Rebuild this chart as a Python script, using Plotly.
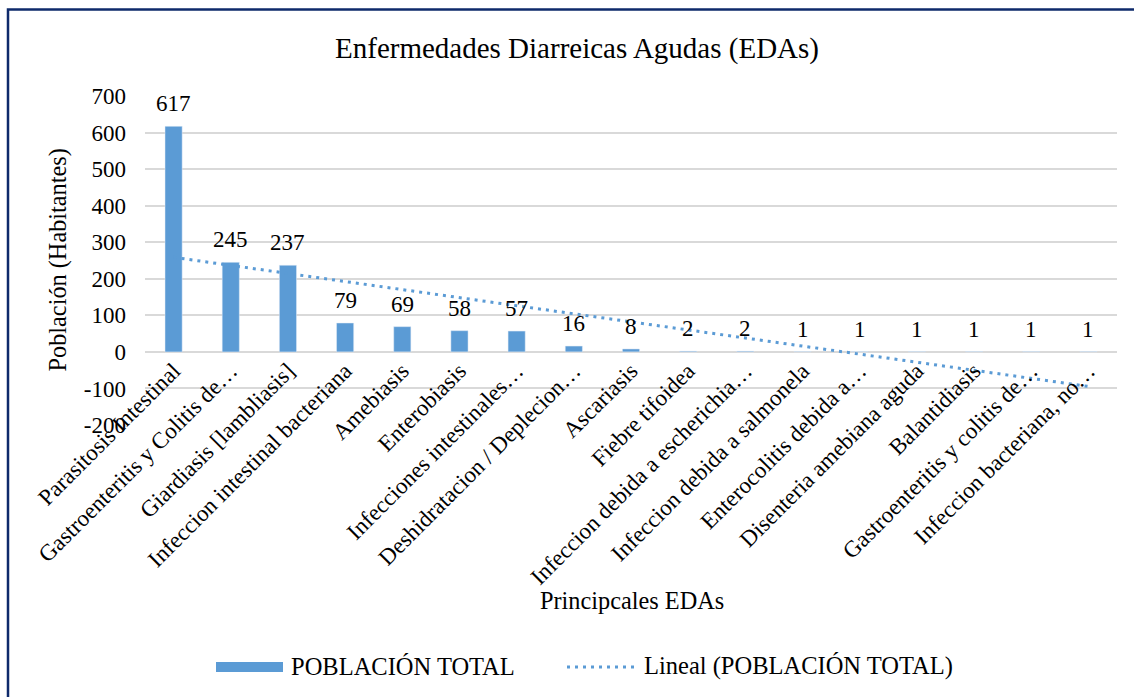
import numpy as np
import plotly.graph_objects as go

categories = [
    "Parasitosis Intestinal",
    "Gastroenteritis y Colitis de…",
    "Giardiasis [lambliasis]",
    "Infeccion intestinal bacteriana",
    "Amebiasis",
    "Enterobiasis",
    "Infecciones intestinales…",
    "Deshidratacion / Deplecion…",
    "Ascariasis",
    "Fiebre tifoidea",
    "Infeccion debida a escherichia…",
    "Infeccion debida a salmonela",
    "Enterocolitis debida a…",
    "Disenteria amebiana aguda",
    "Balantidiasis",
    "Gastroenteritis y colitis de…",
    "Infeccion bacteriana, no…",
]

poblacion = [617, 245, 237, 79, 69, 58, 57, 16, 8, 2, 2, 1, 1, 1, 1, 1, 1]

y_tickvals = [-200, -100, 0, 100, 200, 300, 400, 500, 600, 700]
y_ticktext = ["-200", "-100", "0", "100", "200", "300", "400", "500", "600", "700"]

FONT = "Liberation Serif"
BAR_COLOR = "#5B9BD5"
NAVY = "#0E2A6B"

W, H = 1134, 697
ML, MR, MT, MB = 145, 17, 96, 272
PW = W - ML - MR
PH = H - MT - MB


def px_x(p):
    return (p - ML) / PW


def px_y(q):
    return (H - MB - q) / PH


idx = np.arange(len(poblacion))
slope, intercept = np.polyfit(idx, np.array(poblacion, dtype=float), 1)
trend = slope * idx + intercept

fig = go.Figure()
fig.add_trace(go.Bar(
    x=categories, y=poblacion, marker_color=BAR_COLOR,
    name="POBLACIÓN TOTAL", showlegend=False,
))
fig.add_trace(go.Scatter(
    x=categories, y=trend, mode="lines",
    line=dict(color=BAR_COLOR, width=3, dash="3px,5px"),
    name="Lineal (POBLACIÓN TOTAL)", showlegend=False,
))

annotations = []
for c, v in zip(categories, poblacion):
    annotations.append(dict(
        x=c, y=v, xref="x", yref="y", text=str(v), showarrow=False,
        yanchor="bottom", yshift=8, font=dict(family=FONT, size=23, color="#000"),
    ))

# axis titles
annotations.append(dict(
    x=px_x(57), y=0.5, xref="paper", yref="paper", text="Población (Habitantes)",
    textangle=-90, showarrow=False, xanchor="center", yanchor="middle",
    font=dict(family=FONT, size=24.3, color="#000"),
))
annotations.append(dict(
    x=px_x(632), y=px_y(600), xref="paper", yref="paper", text="Principcales EDAs",
    showarrow=False, xanchor="center", yanchor="middle",
    font=dict(family=FONT, size=24.3, color="#000"),
))
# legend texts
annotations.append(dict(
    x=px_x(289), y=px_y(666), xref="paper", yref="paper", text="POBLACIÓN TOTAL",
    showarrow=False, xanchor="left", yanchor="middle",
    font=dict(family=FONT, size=24.5, color="#000"),
))
annotations.append(dict(
    x=px_x(642), y=px_y(666), xref="paper", yref="paper", text="Lineal (POBLACIÓN TOTAL)",
    showarrow=False, xanchor="left", yanchor="middle",
    font=dict(family=FONT, size=24.5, color="#000"),
))

shapes = [
    # chart border
    dict(type="rect", xref="paper", yref="paper",
         x0=px_x(8), x1=px_x(1140), y0=px_y(705), y1=px_y(9.5),
         line=dict(color=NAVY, width=2.5), fillcolor="rgba(0,0,0,0)", layer="below"),
    # legend symbols
    dict(type="rect", xref="paper", yref="paper",
         x0=px_x(216), x1=px_x(283), y0=px_y(672), y1=px_y(662),
         line=dict(width=0), fillcolor=BAR_COLOR),
    dict(type="line", xref="paper", yref="paper",
         x0=px_x(567), x1=px_x(636), y0=px_y(667), y1=px_y(667),
         line=dict(color=BAR_COLOR, width=3, dash="3px,5px")),
]

fig.update_layout(
    width=W, height=H,
    margin=dict(l=ML, r=MR, t=MT, b=MB),
    paper_bgcolor="white", plot_bgcolor="white",
    font=dict(family=FONT, size=22, color="#000"),
    title=dict(text="Enfermedades Diarreicas Agudas (EDAs)", x=577 / W, xanchor="center",
               y=1 - 48 / H, yanchor="middle", font=dict(family=FONT, size=29, color="#000")),
    bargap=0.7,
    showlegend=False,
    annotations=annotations,
    shapes=shapes,
)
fig.update_xaxes(
    anchor="free", position=200 / 900, showgrid=False, showline=False, ticks="",
    tickangle=-45, tickfont=dict(family=FONT, size=23, color="#000"), automargin=False,
)
fig.update_yaxes(
    range=[-200, 700], tickvals=y_tickvals, ticktext=y_ticktext,
    showgrid=True, gridcolor="#D9D9D9", gridwidth=1.5,
    zeroline=False, showline=False, ticks="", ticklabelstandoff=18,
    tickfont=dict(family=FONT, size=23, color="#000"), automargin=False,
)

fig.write_html(
    "out.html",
    config={"displayModeBar": False},
    post_script="document.body.style.margin='0';document.body.style.overflow='hidden';",
)
